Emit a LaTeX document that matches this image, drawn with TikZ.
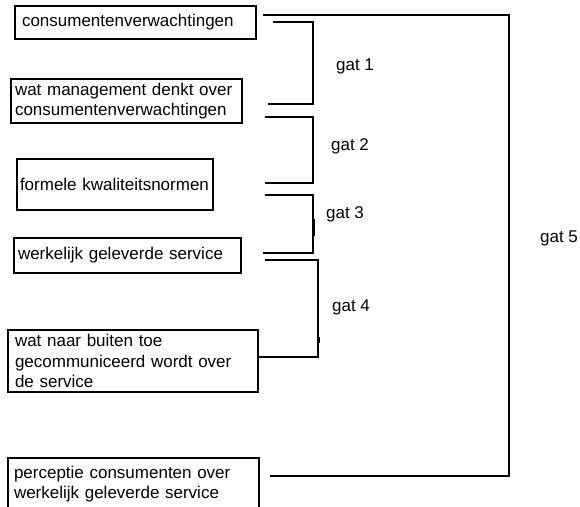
\documentclass[tikz,border=0pt]{standalone}
\usepackage{fontspec}
\setmainfont{Liberation Sans}
\begin{document}
\begin{tikzpicture}[x=1pt,y=-1pt,
  box/.style={draw=black,line width=1.2pt,rectangle,inner xsep=5pt,inner ysep=0pt,align=left,font=\fontsize{17}{20.5}\selectfont},
  gap/.style={font=\fontsize{17}{20.5}\selectfont,inner sep=0pt},
  con/.style={draw=black,line width=1.4pt},
  thickmark/.style={draw=black,line width=3pt}]
\clip (0,0) rectangle (580,506);
\fill[white] (0,0) rectangle (580,506);
% boxes
\node[box,inner xsep=7pt,minimum width=241pt,minimum height=33pt,text width=227pt] (b1) at (135.5,22.5) {consumentenverwachtingen};
\node[box,inner xsep=4pt,minimum width=231pt,minimum height=44pt,text width=223pt] (b2) at (126.5,101) {wat management denkt over\\consumentenverwachtingen};
\node[box,inner xsep=3pt,minimum width=196pt,minimum height=51pt,text width=190pt] (b3) at (115,184.5) {\mbox{formele kwaliteitsnormen}};
\node[box,inner xsep=4pt,minimum width=227pt,minimum height=35pt,text width=219pt] (b4) at (127.5,255.5) {werkelijk geleverde service};
\node[box,inner xsep=7pt,minimum width=250pt,minimum height=62pt,text width=236pt] (b5) at (133,361) {wat naar buiten toe\\gecommuniceerd wordt over\\de service};
\node[box,inner xsep=6pt,minimum width=251pt,minimum height=52pt,text width=239pt] (b6) at (133.5,484) {perceptie consumenten over\\werkelijk geleverde service};
% connector end points
\coordinate (g5a) at (263,15);  \coordinate (g5b) at (509,15);  \coordinate (g5c) at (509,476); \coordinate (g5d) at (270,476);
\coordinate (g1a) at (273,22);  \coordinate (g1b) at (313,22);  \coordinate (g1c) at (313,104); \coordinate (g1d) at (268,104);
\coordinate (g2a) at (265,117); \coordinate (g2b) at (313,117); \coordinate (g2c) at (313,183); \coordinate (g2d) at (265,183);
\coordinate (g3a) at (265,195); \coordinate (g3b) at (313,195); \coordinate (g3c) at (313,253); \coordinate (g3d) at (263,253);
\coordinate (g4a) at (265,260); \coordinate (g4b) at (318,260); \coordinate (g4c) at (318,357); \coordinate (g4d) at (257,357);
\coordinate (m3a) at (313,219); \coordinate (m3b) at (313,236);
\coordinate (m4a) at (318,337); \coordinate (m4b) at (318,343);
% brackets
\draw[con] (g5a) -- (g5b) -- (g5c) -- (g5d);
\draw[con] (g1a) -- (g1b) -- (g1c) -- (g1d);
\draw[con] (g2a) -- (g2b) -- (g2c) -- (g2d);
\draw[con] (g3a) -- (g3b) -- (g3c) -- (g3d);
\draw[con] (g4a) -- (g4b) -- (g4c) -- (g4d);
\draw[thickmark] (m3a) -- (m3b);
\draw[thickmark] (m4a) -- (m4b);
% labels
\node[gap] (l1) at (355,66) {gat 1};
\node[gap] (l2) at (350,146) {gat 2};
\node[gap] (l3) at (345,214) {gat 3};
\node[gap] (l4) at (351,307) {gat 4};
\node[gap] (l5) at (559,238) {gat 5};
\end{tikzpicture}
\end{document}
